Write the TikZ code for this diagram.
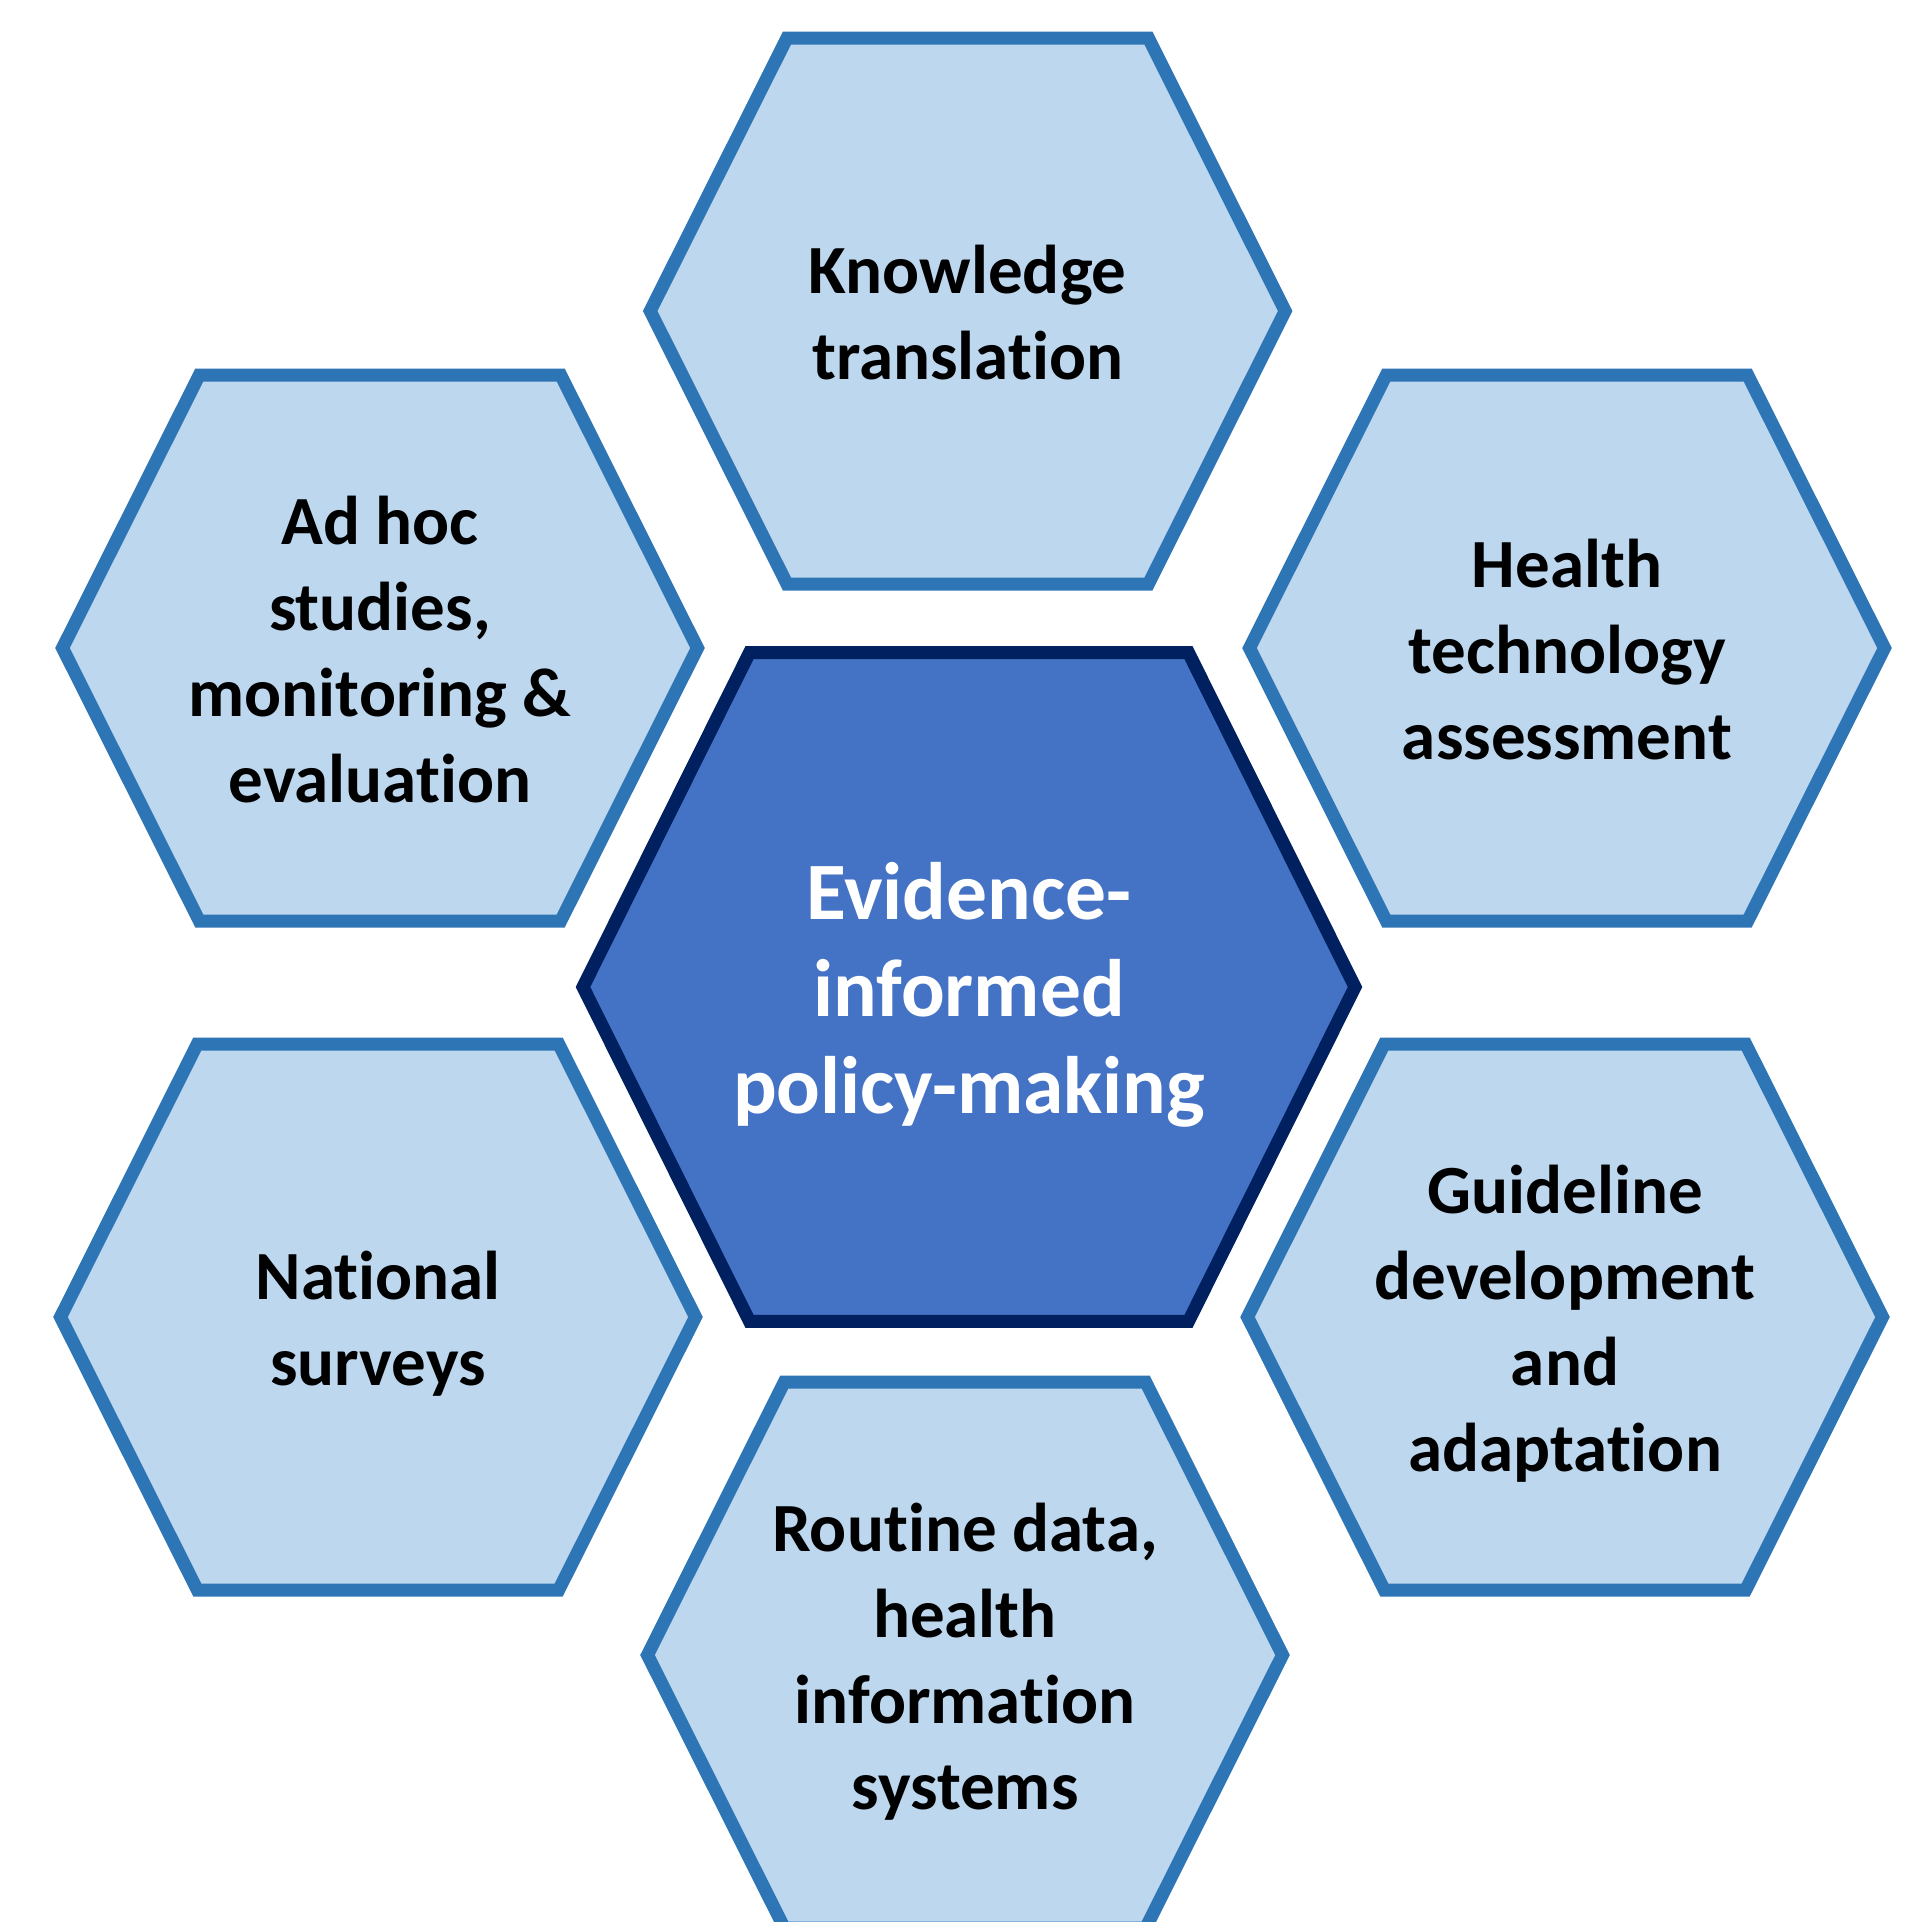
\documentclass[tikz,border=0pt]{standalone}
\usepackage{fontspec}
\setmainfont{Carlito}[Ligatures={NoCommon}]
\definecolor{lightfill}{HTML}{BDD7EE}
\definecolor{lightline}{HTML}{2E75B6}
\definecolor{midfill}{HTML}{4472C4}
\definecolor{darkline}{HTML}{002060}
\newcommand\os{\rule[-18pt]{0pt}{86pt}}
\newcommand\cs{\rule[-19.5pt]{0pt}{97pt}}
\tikzset{
  outerhex/.style={draw=lightline, fill=lightfill, line width=13pt, line join=miter},
  centerhex/.style={draw=darkline, fill=midfill, line width=13pt, line join=miter},
  outertext/.style={font=\fontsize{69}{86}\selectfont\bfseries, align=center, inner sep=0pt, text=black},
  centertext/.style={font=\fontsize{81.5}{97}\selectfont\bfseries, align=center, inner sep=0pt, text=white},
  smallhex/.pic={\path[outerhex] (-317.5,0) -- (-180.7,-273) -- (180.7,-273) -- (317.5,0) -- (180.7,273) -- (-180.7,273) -- cycle;},
  bighex/.pic={\path[centerhex] (-386,0) -- (-219.5,-334.3) -- (219.5,-334.3) -- (386,0) -- (219.5,334.3) -- (-219.5,334.3) -- cycle;}
}
\begin{document}
\begin{tikzpicture}[x=1pt, y=-1pt]
  \useasboundingbox (0,0) rectangle (1906,1922);
  \clip (0,0) rectangle (1906,1922);
  % hexagons
  \pic at (967.7,311) {smallhex};
  \pic at (380,648) {smallhex};
  \pic at (1567,648) {smallhex};
  \pic at (378,1317) {smallhex};
  \pic at (1565,1317) {smallhex};
  \pic at (965,1655) {smallhex};
  \pic at (969,987) {bighex};
  % texts
  \node[outertext] (kt) at (967.7,311) {\os Knowledge\\\os translation};
  \node[outertext] (adhoc) at (380,648) {\os Ad hoc\\\os studies,\\\os monitoring \&\\\os evaluation};
  \node[outertext] (hta) at (1567,648) {\os Health\\\os technology\\\os assessment};
  \node[outertext] (ns) at (378,1317) {\os National\\\os surveys};
  \node[outertext] (gl) at (1565,1317) {\os Guideline\\\os development\\\os and\\\os adaptation};
  \node[outertext] (rd) at (965,1655) {\os Routine data,\\\os health\\\os information\\\os systems};
  \node[centertext] (eipm) at (969,987) {\cs Evidence-\\\cs informed\\\cs policy-making};
\end{tikzpicture}
\end{document}
